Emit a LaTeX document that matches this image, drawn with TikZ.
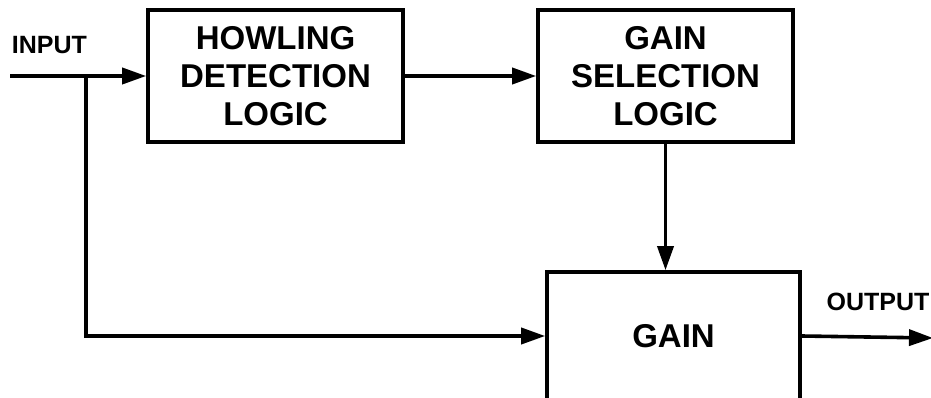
\documentclass[tikz,border=0pt]{standalone}
\usepackage{fontspec}
\setmainfont{Liberation Sans}
\usetikzlibrary{arrows.meta,calc}

\tikzset{
  block/.style={draw, line width=3.6pt, align=center, inner sep=0pt,
    font=\fontsize{33}{38}\selectfont\bfseries},
  lbl/.style={inner sep=0pt, font=\fontsize{25}{29}\selectfont\bfseries},
  wire/.style={line width=3.6pt},
  flow/.style={wire, -{Triangle[length=24pt,width=16pt]}}
}

\begin{document}
\begin{tikzpicture}[x=1pt,y=-1pt]
  \useasboundingbox (0,0) rectangle (931,398);

  % blocks
  \node[block, minimum width=255pt, minimum height=132pt] (hdl) at (275.5,76)
    {HOWLING\\DETECTION\\LOGIC};
  \node[block, minimum width=255pt, minimum height=132pt] (gsl) at (665.5,76)
    {GAIN\\SELECTION\\LOGIC};
  \node[block, minimum width=253pt, minimum height=128pt] (gain) at (673.5,336)
    {GAIN};

  % labels
  \node[lbl] (inlbl) at (49.5,45) {INPUT};
  \node[lbl] (outlbl) at (878,302) {OUTPUT};

  % terminals
  \coordinate (in) at (10,76);
  \coordinate (tap) at (86,76);
  \coordinate (out) at (933,338);

  % connectors
  \draw[flow] (in) -- (hdl.west);
  \draw[flow] (hdl.east) -- (gsl.west);
  \draw[flow] (gsl.south) -- (gsl.south |- gain.north);
  \draw[flow] (tap) |- (gain.west);
  \draw[flow] (gain.east) -- (out);
\end{tikzpicture}
\end{document}
